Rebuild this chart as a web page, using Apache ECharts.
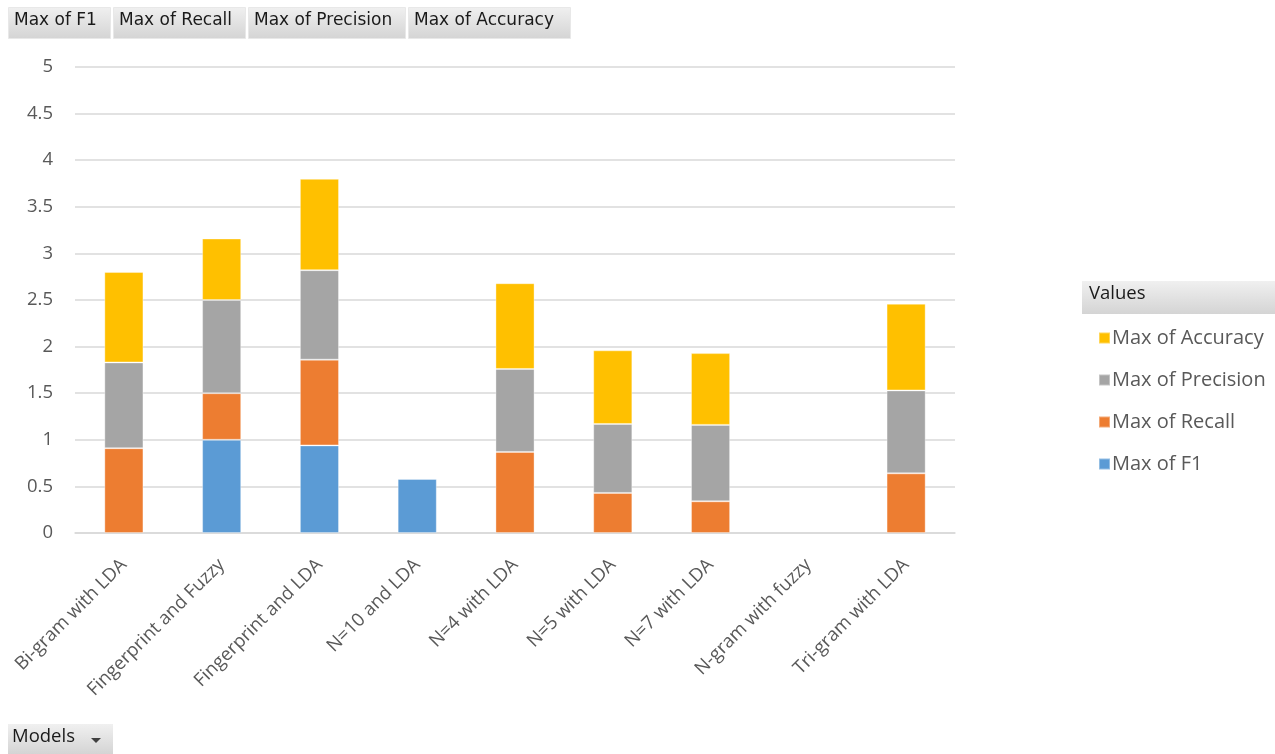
<!DOCTYPE html>
<html>
<head>
<meta charset="utf-8">
<script src="https://cdn.jsdelivr.net/npm/echarts@6/dist/echarts.min.js"></script>
<style>
html,body{margin:0;padding:0;background:#fff;}
#c{width:1275px;height:754px;}
</style>
</head>
<body>
<div id="c"></div>
<script>
const categories = ["Bi-gram with LDA","Fingerprint and Fuzzy","Fingerprint and LDA","N=10 and LDA","N=4 with LDA","N=5 with LDA","N=7 with LDA","N-gram with fuzzy","Tri-gram with LDA"];
const f1        = [null, 1.00, 0.94, 0.58, null, null, null, null, null];
const recall    = [0.91, 0.50, 0.92, null, 0.87, 0.43, 0.34, null, 0.64];
const precision = [0.92, 1.00, 0.96, null, 0.89, 0.74, 0.82, null, 0.89];
const accuracy  = [0.97, 0.66, 0.98, null, 0.92, 0.79, 0.77, null, 0.93];
const yTicks = [0, 0.5, 1, 1.5, 2, 2.5, 3, 3.5, 4, 4.5, 5];
const fieldButtons = ["Max of F1","Max of Recall","Max of Precision","Max of Accuracy"];

const FONT = "'Open Sans', sans-serif";
const BTNFONT = "'DejaVu Sans', sans-serif";
const colors = {f1:'#5b9bd5', recall:'#ed7d31', precision:'#a5a5a5', accuracy:'#ffc000'};
const btnFill = {type:'linear',x:0,y:0,x2:0,y2:1,colorStops:[{offset:0,color:'#f0f0f0'},{offset:1,color:'#d4d4d4'}]};

const chart = echarts.init(document.getElementById('c'), null, {renderer:'canvas'});

const btnX = [8, 113, 248, 408];
const btnW = [102, 132, 157, 162];
const graphics = [];
fieldButtons.forEach((t,i)=>{
  graphics.push({type:'rect', left:btnX[i], top:7, shape:{width:btnW[i], height:31}, style:{fill:btnFill, stroke:'#e8e8e8', lineWidth:1}});
  graphics.push({type:'text', left:btnX[i]+6, top:12, style:{text:t, font:'17px '+BTNFONT, fill:'#1a1a1a'}});
});
graphics.push({type:'rect', left:1082, top:281, shape:{width:193, height:33}, style:{fill:btnFill}});
graphics.push({type:'text', left:1089, top:284, style:{text:'Values', font:'18.5px '+FONT, fill:'#1a1a1a'}});
graphics.push({type:'rect', left:8, top:724, shape:{width:105, height:30}, style:{fill:btnFill}});
graphics.push({type:'text', left:12, top:727, style:{text:'Models', font:'18.5px '+FONT, fill:'#1a1a1a'}});
graphics.push({type:'polygon', shape:{points:[[91,738],[101,738],[96,743]]}, style:{fill:'#404040'}});

function mk(name, data, color){
  return {name, type:'bar', stack:'all', data, barWidth:'40%',
    itemStyle:{color, borderColor:'rgba(255,255,255,0.35)', borderWidth:1},
    emphasis:{disabled:true}};
}

chart.setOption({
  animation:false,
  textStyle:{fontFamily:FONT},
  grid:{left:75, right:320, top:67, bottom:221, containLabel:false},
  legend:{
    orient:'vertical', left:1093, top:323,
    data:['Max of Accuracy','Max of Precision','Max of Recall','Max of F1'],
    icon:'rect', itemWidth:11, itemHeight:11, itemGap:22,
    textStyle:{fontSize:20, color:'#595959', fontFamily:FONT, padding:[0,0,0,-3]},
    selectedMode:false
  },
  xAxis:{
    type:'category', data:categories,
    axisLine:{lineStyle:{color:'#d9d9d9', width:1.5}},
    axisTick:{show:false},
    axisLabel:{rotate:45, fontSize:18.5, color:'#595959', fontFamily:FONT, interval:0, margin:29}
  },
  yAxis:{
    type:'value', min:yTicks[0], max:yTicks[yTicks.length-1], interval:0.5,
    axisLine:{show:false}, axisTick:{show:false},
    splitLine:{lineStyle:{color:'#d9d9d9', width:1.5}},
    axisLabel:{fontSize:18.5, color:'#595959', fontFamily:FONT, margin:22}
  },
  series:[
    mk('Max of F1', f1, colors.f1),
    mk('Max of Recall', recall, colors.recall),
    mk('Max of Precision', precision, colors.precision),
    mk('Max of Accuracy', accuracy, colors.accuracy)
  ],
  graphic:graphics
});
</script>
</body>
</html>
